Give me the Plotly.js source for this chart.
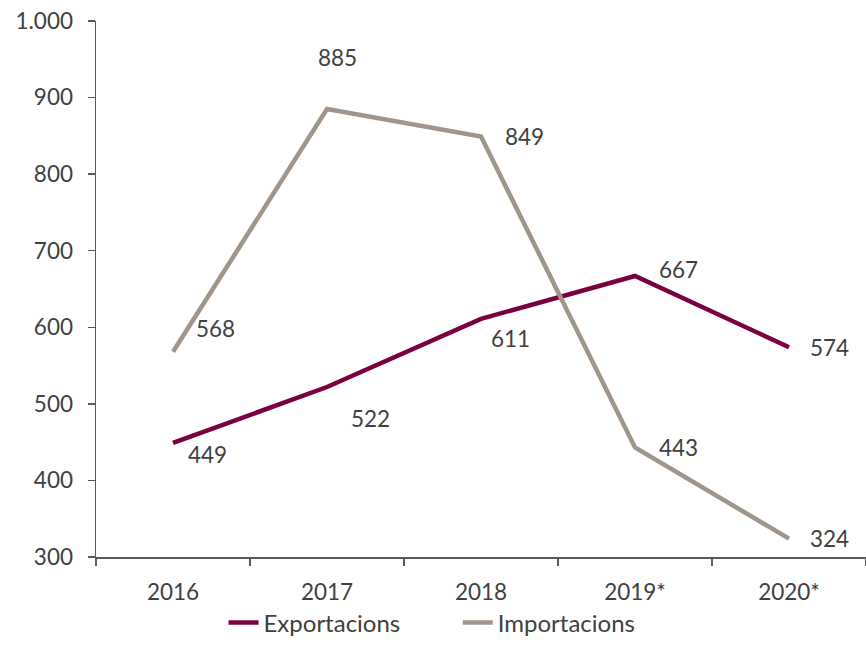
<!DOCTYPE html>
<html>
<head>
<meta charset="utf-8">
<script src="https://cdn.plot.ly/plotly-3.0.1.min.js"></script>
<style>html,body{margin:0;padding:0;background:#fff;}#chart{width:866px;height:665px;}</style>
</head>
<body>
<div id="chart"></div>
<script>
const years = ['2016', '2017', '2018', '2019*', '2020*'];
const exportacions = [449, 522, 611, 667, 574];
const importacions = [568, 885, 849, 443, 324];
const seriesNames = ['Exportacions', 'Importacions'];

// label offsets (px) relative to the point: [xshift, yshift]
const expOffsets = [[34, -12], [43, -31], [29, -20], [43, 6], [40, 0]];
const impOffsets = [[42, 23], [10, 52], [43, 0], [43, 0], [40, 0]];

const textColor = '#404040';
const axisColor = '#595959';
const fontFamily = 'Lato, "Open Sans", sans-serif';
const fs = 22.5;

const traces = [
  {x: years, y: exportacions, name: seriesNames[0], type: 'scatter', mode: 'lines',
   line: {color: '#7A0040', width: 4.5}, legend: 'legend'},
  {x: years, y: importacions, name: seriesNames[1], type: 'scatter', mode: 'lines',
   line: {color: '#9F958B', width: 4.5}, legend: 'legend2'}
];

const annotations = [];
function addLabels(vals, offs) {
  vals.forEach((v, i) => {
    // category index used as position on the category axis
    annotations.push({x: i, y: v, xref: 'x', yref: 'y', text: String(v),
      showarrow: false, xshift: offs[i][0], yshift: offs[i][1],
      font: {family: fontFamily, size: fs, color: textColor}});
  });
}
addLabels(exportacions, expOffsets);
addLabels(importacions, impOffsets);

const legendFont = {family: fontFamily, size: 24, color: textColor};

const layout = {
  width: 866, height: 665,
  margin: {l: 96, r: 0, t: 21, b: 108, autoexpand: false},
  paper_bgcolor: '#fff', plot_bgcolor: '#fff',
  separators: ',.',
  font: {family: fontFamily, size: fs, color: textColor},
  showlegend: true,
  legend: {orientation: 'h', x: 0.1656, xanchor: 'left', y: -0.123, yanchor: 'middle', font: legendFont},
  legend2: {orientation: 'h', x: 0.4698, xanchor: 'left', y: -0.123, yanchor: 'middle', font: legendFont},
  xaxis: {type: 'category', range: [-0.5, 4.5], showgrid: false, zeroline: false,
    showline: true, linecolor: axisColor, linewidth: 1.5,
    ticks: 'outside', tickson: 'boundaries', ticklen: 7, tickcolor: axisColor, tickwidth: 1.5,
    ticklabelstandoff: 14, tickangle: 0,
    tickfont: {family: fontFamily, size: fs, color: textColor}},
  yaxis: {range: [300, 1000], dtick: 100, tickformat: ',', showgrid: false, zeroline: false,
    showline: true, linecolor: axisColor, linewidth: 1.5,
    ticks: 'outside', ticklen: 7, tickcolor: axisColor, tickwidth: 1.5,
    ticklabelstandoff: 10,
    tickfont: {family: fontFamily, size: fs, color: textColor}},
  annotations: annotations
};

Plotly.newPlot('chart', traces, layout, {displayModeBar: false, staticPlot: true});
</script>
</body>
</html>
